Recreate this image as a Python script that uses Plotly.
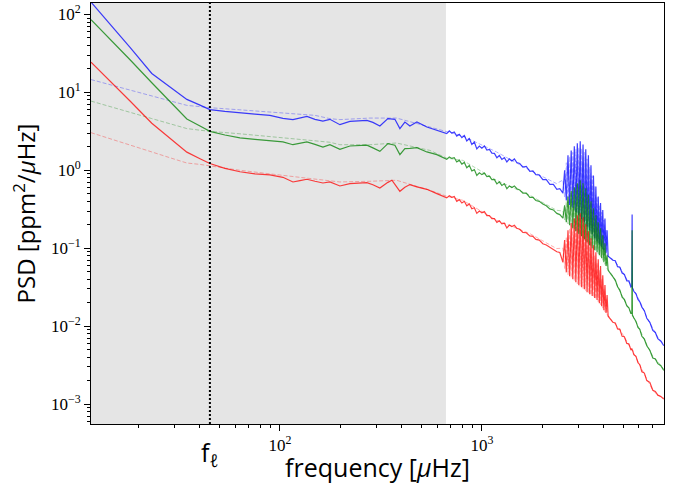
import math
import plotly.graph_objects as go

# ---- binned power spectra (frequency in µHz, PSD in ppm^2/µHz) ----
freq_low = [11.6, 14.4, 18.1, 23.2, 28.5, 34.6, 40.2, 45.0, 53.4, 63.4,
            75.2, 89.2, 103.5, 116.0, 125.6, 136.1, 149.1, 163.3, 176.8, 198.2,
            222.1, 248.9, 269.6, 288.7, 312.6, 342.5, 358.5, 371.0, 392.7, 415.7,
            440.1, 476.7, 534.1, 598.5]
freq_mid = [670, 690, 710, 730, 751, 773, 796, 819, 842, 867,
            892, 918, 944, 972, 1000, 1029, 1059, 1090, 1121, 1154,
            1187, 1221, 1256, 1293, 1330, 1369, 1408, 1449, 1490, 1540,
            1596, 1660, 1728, 1790, 1851, 1925, 2004, 2085, 2171, 2260,
            2351, 2433]
freq_modes = [2520, 2570, 2620, 2670, 2720, 2770, 2820, 2870, 2920, 2970,
              3020, 3070, 3120, 3170, 3220, 3270, 3320, 3370, 3420, 3470,
              3520, 3570, 3620, 3670, 3720, 3770, 3820, 3870, 3920, 3970,
              4020, 4070, 4120, 4170, 4220]
freq_high = [4453, 4580, 4700, 4823, 4950, 5080, 5222, 5350, 5466, 5530,
             5548, 5566, 5655, 5800, 5930, 6057, 6200, 6380, 6558, 6790,
             7023, 7230, 7436, 7700, 7962]

blue_low = [144, 75.7, 37.7, 17.5, 11.8, 8.13, 6.86, 6.0, 5.70, 5.43,
            5.26, 5.07, 4.64, 4.47, 4.71, 4.92, 4.51, 4.29, 4.51, 3.85,
            4.25, 4.31, 4.38, 4.12, 3.70, 4.60, 4.55, 4.51, 3.43, 4.16,
            3.70, 4.16, 3.59, 3.26]
blue_mid = [2.96, 3.20, 3.00, 3.10, 2.75, 2.90, 2.62, 2.80, 2.38, 2.55,
            2.15, 2.30, 1.88, 2.05, 1.92, 2.05, 1.82, 1.85, 1.66, 1.65,
            1.45, 1.55, 1.38, 1.45, 1.28, 1.40, 1.32, 1.40, 1.26, 1.22,
            1.10, 1.12, 0.97, 0.98, 0.88, 0.87, 0.76, 0.76, 0.66, 0.66,
            0.57, 0.58]
blue_modes = [0.51, 1.0, 0.41, 1.56, 0.36, 1.80, 0.33, 2.03, 0.29, 2.22,
              0.265, 2.36, 0.235, 2.15, 0.215, 1.86, 0.19, 1.56, 0.17, 1.16,
              0.151, 0.86, 0.134, 0.62, 0.123, 0.46, 0.112, 0.38, 0.103, 0.31,
              0.094, 0.24, 0.086, 0.17, 0.079]
blue_high = [0.070, 0.069, 0.058, 0.057, 0.048, 0.046, 0.038, 0.038, 0.032, 0.033,
             0.27, 0.031, 0.028, 0.026, 0.022, 0.0205, 0.0175, 0.0158, 0.0126, 0.0112,
             0.0088, 0.0083, 0.0069, 0.0064, 0.0056]

green_low = [85.5, 48.6, 26.2, 13.3, 7.62, 4.55, 3.70, 3.16, 2.84, 2.61,
             2.50, 2.39, 2.31, 2.13, 2.22, 2.31, 2.15, 1.99, 2.13, 1.86,
             2.05, 2.08, 2.10, 1.94, 1.75, 2.20, 2.15, 2.10, 1.59, 1.90,
             1.91, 1.95, 1.72, 1.59]
green_mid = [1.38, 1.48, 1.42, 1.45, 1.28, 1.35, 1.20, 1.26, 1.08, 1.15,
             0.98, 1.02, 0.86, 0.93, 0.88, 0.92, 0.83, 0.84, 0.76, 0.76,
             0.67, 0.71, 0.64, 0.67, 0.58, 0.63, 0.60, 0.63, 0.58, 0.56,
             0.51, 0.51, 0.45, 0.45, 0.41, 0.40, 0.37, 0.35, 0.32, 0.31,
             0.28, 0.27]
green_modes = [0.243, 0.356, 0.215, 0.46, 0.197, 0.54, 0.18, 0.605, 0.165, 0.68,
               0.151, 0.745, 0.143, 0.68, 0.130, 0.59, 0.119, 0.49, 0.109, 0.40,
               0.100, 0.326, 0.094, 0.265, 0.089, 0.215, 0.081, 0.18, 0.0745, 0.147,
               0.066, 0.116, 0.059, 0.081, 0.052]
green_high = [0.0425, 0.039, 0.032, 0.029, 0.0235, 0.022, 0.0182, 0.0172, 0.0146, 0.0146,
              0.17, 0.0139, 0.0128, 0.0115, 0.0096, 0.0091, 0.0074, 0.0068, 0.0056, 0.0049,
              0.0039, 0.0038, 0.0033, 0.0031, 0.0027]

red_low = [24.4, 14.1, 7.76, 4.02, 2.58, 1.71, 1.41, 1.22, 1.06, 0.957,
           0.902, 0.875, 0.813, 0.708, 0.738, 0.767, 0.723, 0.687, 0.708, 0.629,
           0.675, 0.685, 0.695, 0.652, 0.593, 0.70, 0.745, 0.66, 0.538, 0.605,
           0.656, 0.614, 0.570, 0.502]
red_mid = [0.442, 0.47, 0.45, 0.46, 0.40, 0.42, 0.38, 0.40, 0.35, 0.37,
           0.32, 0.33, 0.28, 0.30, 0.285, 0.295, 0.262, 0.262, 0.24, 0.24,
           0.215, 0.225, 0.205, 0.21, 0.182, 0.198, 0.19, 0.197, 0.18, 0.175,
           0.16, 0.158, 0.144, 0.142, 0.13, 0.127, 0.114, 0.11, 0.102, 0.097,
           0.09, 0.088]
red_modes = [0.066, 0.127, 0.049, 0.170, 0.0437, 0.21, 0.040, 0.243, 0.0367, 0.265,
             0.0336, 0.281, 0.0316, 0.25, 0.0298, 0.203, 0.0273, 0.165, 0.0257, 0.134,
             0.0243, 0.109, 0.0229, 0.089, 0.0216, 0.072, 0.0197, 0.059, 0.018, 0.045,
             0.016, 0.0336, 0.0147, 0.025, 0.0134]
red_high = [0.0112, 0.0110, 0.0092, 0.0091, 0.0074, 0.0073, 0.0060, 0.0059, 0.0050, 0.0051,
            0.0049, 0.0050, 0.0043, 0.0041, 0.0034, 0.0032, 0.0026, 0.0025, 0.0020, 0.0019,
            0.0015, 0.00145, 0.0013, 0.00125, 0.00116]

# ---- comparison spectra (drawn faint, dashed) ----
ref_freq_low = [11.6, 14.4, 18.1, 23.2, 28.5, 34.6, 40.2, 45.0, 63.4, 89.2,
                112, 125.6, 149.1, 176.8, 198.2, 279, 378, 553, 670.6, 805,
                1182, 1728, 2343]
ref_freq_modes = freq_modes
ref_freq_high = [4453, 4823, 5222, 5466, 5655, 6057, 6558, 7023, 7436, 7962]

ref_blue_low = [14.6, 12.6, 10.7, 9.0, 7.78, 6.81, 6.56, 6.36, 5.97, 5.57,
                5.33, 5.25, 5.07, 4.60, 4.47, 4.68, 4.68, 3.59, 3.16, 2.75,
                1.72, 1.0, 0.675]
ref_blue_modes = [0.75, 0.45, 1.25, 0.38, 1.5, 0.34, 1.7, 0.31, 1.85, 0.28,
                  1.95, 0.25, 1.9, 0.225, 1.7, 0.20, 1.4, 0.18, 1.1, 0.16,
                  0.85, 0.143, 0.62, 0.128, 0.46, 0.117, 0.36, 0.107, 0.29, 0.098,
                  0.23, 0.09, 0.17, 0.082, 0.079]
ref_blue_high = [0.072, 0.057, 0.040, 0.034, 0.029, 0.021, 0.013, 0.0092, 0.0072, 0.0059]

ref_green_low = [7.73, 6.62, 5.57, 4.61, 3.96, 3.43, 3.27, 3.16, 2.94, 2.73,
                 2.55, 2.53, 2.39, 2.29, 2.13, 2.13, 2.24, 1.80, 1.43, 1.34,
                 0.745, 0.478, 0.307]
ref_green_modes = [0.30, 0.23, 0.40, 0.205, 0.48, 0.19, 0.54, 0.172, 0.58, 0.158,
                   0.62, 0.147, 0.60, 0.136, 0.53, 0.124, 0.45, 0.114, 0.37, 0.104,
                   0.30, 0.097, 0.24, 0.091, 0.19, 0.085, 0.16, 0.078, 0.13, 0.07,
                   0.10, 0.062, 0.075, 0.055, 0.053]
ref_green_high = [0.044, 0.028, 0.019, 0.015, 0.013, 0.009, 0.0058, 0.0041, 0.0035, 0.0028]

ref_red_low = [3.04, 2.56, 2.12, 1.72, 1.45, 1.24, 1.19, 1.135, 1.0, 0.90,
               0.838, 0.81, 0.767, 0.72, 0.708, 0.723, 0.745, 0.554, 0.464, 0.412,
               0.229, 0.154, 0.099]
ref_red_modes = [0.10, 0.055, 0.14, 0.046, 0.18, 0.042, 0.21, 0.038, 0.23, 0.035,
                 0.24, 0.0325, 0.23, 0.0305, 0.19, 0.0285, 0.16, 0.0265, 0.125, 0.025,
                 0.10, 0.0236, 0.08, 0.0222, 0.065, 0.0206, 0.052, 0.0188, 0.04, 0.017,
                 0.03, 0.0153, 0.022, 0.014, 0.0137]
ref_red_high = [0.0114, 0.0091, 0.0062, 0.0052, 0.0045, 0.0031, 0.0021, 0.0015, 0.0013, 0.0012]

f_low_cut = 45.0      # f_ell marker
f_shade_max = 664.0   # upper edge of the shaded band

freq = freq_low + freq_mid + freq_modes + freq_high
ref_freq = ref_freq_low + ref_freq_modes + ref_freq_high
spectra = {
    "blue": blue_low + blue_mid + blue_modes + blue_high,
    "green": green_low + green_mid + green_modes + green_high,
    "red": red_low + red_mid + red_modes + red_high,
}
ref_spectra = {
    "blue": ref_blue_low + ref_blue_modes + ref_blue_high,
    "green": ref_green_low + ref_green_modes + ref_green_high,
    "red": ref_red_low + ref_red_modes + ref_red_high,
}
for name in spectra:
    assert len(spectra[name]) == len(freq), name
    assert len(ref_spectra[name]) == len(ref_freq), name

colors = {"blue": "#0000ff", "green": "#008000", "red": "#ff0000"}

fig = go.Figure()

for name in ["blue", "green", "red"]:
    fig.add_trace(go.Scatter(
        x=ref_freq, y=ref_spectra[name], mode="lines", opacity=0.3,
        line=dict(color=colors[name], width=1, dash="4px,2px"),
        hoverinfo="skip", showlegend=False))

for name in ["blue", "green", "red"]:
    fig.add_trace(go.Scatter(
        x=freq, y=spectra[name], mode="lines", opacity=0.75,
        line=dict(color=colors[name], width=1.2),
        showlegend=False))

fig.add_vrect(x0=1, x1=f_shade_max, fillcolor="#e5e5e5", line_width=0, layer="below")
fig.add_vline(x=f_low_cut, line=dict(color="black", width=2, dash="2px,2px"))

fig.add_annotation(x=math.log10(f_low_cut), y=-0.07, xref="x", yref="paper",
                   text="f<sub><i>ℓ</i></sub>", showarrow=False,
                   font=dict(family="Open Sans", size=25, color="black"),
                   xanchor="center", yanchor="middle")

minor_vals = [m * 10 ** e for e in range(-4, 5) for m in range(2, 10)]
tick_font = dict(family="Liberation Serif", size=17, color="black")

fig.update_xaxes(
    type="log", range=[1.0644, 3.902],
    tickvals=[100, 1000], ticktext=["10<sup>2</sup>", "10<sup>3</sup>"],
    ticks="outside", ticklen=6, tickcolor="black", tickfont=tick_font,
    minor=dict(tickvals=minor_vals, ticks="outside", ticklen=3, tickcolor="black", showgrid=False),
    showgrid=False, zeroline=False, showline=True, linecolor="black", linewidth=1, mirror=True,
    title=dict(text="frequency [<i>μ</i>Hz]", font=dict(family="Open Sans", size=25, color="black"), standoff=4),
)
fig.update_yaxes(
    type="log", range=[-3.256, 2.147],
    tickvals=[1e-3, 1e-2, 1e-1, 1, 10, 100],
    ticktext=["10<sup>−3</sup>", "10<sup>−2</sup>", "10<sup>−1</sup>",
              "10<sup>0</sup>", "10<sup>1</sup>", "10<sup>2</sup>"],
    ticks="outside", ticklen=6, tickcolor="black", tickfont=tick_font,
    minor=dict(tickvals=minor_vals, ticks="outside", ticklen=3, tickcolor="black", showgrid=False),
    showgrid=False, zeroline=False, showline=True, linecolor="black", linewidth=1, mirror=True,
    title=dict(text="PSD [ppm<sup>2</sup>/<i>μ</i>Hz]", font=dict(family="Open Sans", size=24, color="black"), standoff=8),
)

fig.update_layout(
    width=683, height=484,
    margin=dict(l=91, r=19, t=3, b=60, autoexpand=False),
    paper_bgcolor="white", plot_bgcolor="white",
)

fig.write_html("out.html")
